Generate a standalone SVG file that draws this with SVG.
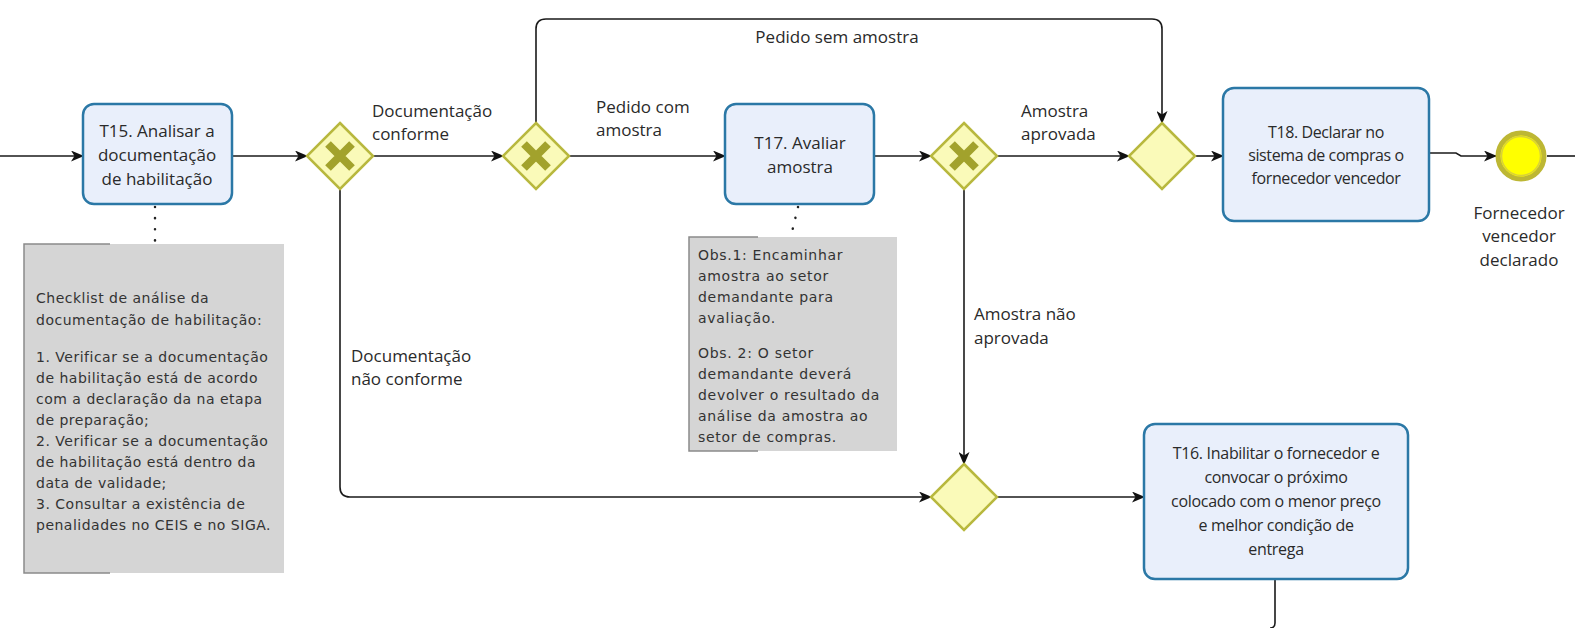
<svg xmlns="http://www.w3.org/2000/svg" width="1575" height="628" viewBox="0 0 1575 628">
<defs>
<marker id="arr" markerWidth="13" markerHeight="11" refX="12" refY="5.5" orient="auto" markerUnits="userSpaceOnUse">
<path d="M0,0 L13,5.5 L0,11 L3.5,5.5 Z" fill="#111"/>
</marker>
<style>
.task{fill:#e9effb;stroke:#2b78a6;stroke-width:2.5}
.gw{fill:#fafab9;stroke:#b8b83e;stroke-width:2.5}
.gx{stroke:#a2a22c;stroke-width:8;stroke-linecap:butt}
.con{fill:none;stroke:#1a1a1a;stroke-width:1.6}
.assoc{fill:none;stroke:#222;stroke-width:2.5;stroke-dasharray:0.1 11;stroke-linecap:round}
.note{fill:#d5d5d5}
.bracket{fill:none;stroke:#8a8a8a;stroke-width:1.5}
.lbl{font-family:"Open Sans","Noto Sans",sans-serif;font-size:17px;fill:#2a2a2a}
.tt{font-family:"Open Sans","Noto Sans",sans-serif;font-size:17px;fill:#2a2a2a;text-anchor:middle}
.nt{font-family:"DejaVu Sans",sans-serif;font-size:14px;letter-spacing:0.5px;fill:#333}
.nt2{font-family:"DejaVu Sans",sans-serif;font-size:14px;letter-spacing:0.7px;fill:#333}
</style>
</defs>

<g id="connectors">
<path class="con" d="M0,156 H83" marker-end="url(#arr)"/>
<path class="con" d="M232,156 H307" marker-end="url(#arr)"/>
<path class="con" d="M373,156 H503" marker-end="url(#arr)"/>
<path class="con" d="M569,156 H725" marker-end="url(#arr)"/>
<path class="con" d="M874,156 H931" marker-end="url(#arr)"/>
<path class="con" d="M997,156 H1129" marker-end="url(#arr)"/>
<path class="con" d="M1195,156 H1223" marker-end="url(#arr)"/>
<path class="con" d="M536,123 V29 Q536,19 546,19 H1152 Q1162,19 1162,29 V123" marker-end="url(#arr)"/>
<path class="con" d="M1429,153 H1456 L1461,156 H1496" marker-end="url(#arr)"/>
<path class="con" d="M1547,156 H1575"/>
<path class="con" d="M340,189 V487 Q340,497 350,497 H931" marker-end="url(#arr)"/>
<path class="con" d="M964,189 V464" marker-end="url(#arr)"/>
<path class="con" d="M997,497 H1144" marker-end="url(#arr)"/>
<path class="con" d="M1275,579 V623 Q1275,628 1270,628"/>
<path class="assoc" d="M155,207 V243"/>
<path class="assoc" d="M798,207 L791,236"/>
<text class="lbl" x="372" y="117">Documentação</text>
<text class="lbl" x="372" y="140">conforme</text>
<text class="lbl" x="837" y="43" text-anchor="middle">Pedido sem amostra</text>
<text class="lbl" x="596" y="113">Pedido com</text>
<text class="lbl" x="596" y="136">amostra</text>
<text class="lbl" x="1021" y="117">Amostra</text>
<text class="lbl" x="1021" y="140">aprovada</text>
<text class="lbl" x="351" y="362">Documentação</text>
<text class="lbl" x="351" y="385">não conforme</text>
<text class="lbl" x="974" y="320">Amostra não</text>
<text class="lbl" x="974" y="344">aprovada</text>
</g>

<g id="t15">
<rect class="task" x="83" y="104" width="149" height="100" rx="11"/>
<text class="tt" x="157" y="137">T15. Analisar a</text>
<text class="tt" x="157" y="161">documentação</text>
<text class="tt" x="157" y="185">de habilitação</text>
</g>

<g id="note15">
<rect class="note" x="24" y="244" width="260" height="329"/>
<path class="bracket" d="M110,244 H24 V573 H110"/>
<text class="nt" x="36" y="303">Checklist de análise da</text>
<text class="nt" x="36" y="325">documentação de habilitação:</text>
<text class="nt" x="36" y="362">1. Verificar se a documentação</text>
<text class="nt" x="36" y="383">de habilitação está de acordo</text>
<text class="nt" x="36" y="404">com a declaração da na etapa</text>
<text class="nt" x="36" y="425">de preparação;</text>
<text class="nt" x="36" y="446">2. Verificar se a documentação</text>
<text class="nt" x="36" y="467">de habilitação está dentro da</text>
<text class="nt" x="36" y="488">data de validade;</text>
<text class="nt" x="36" y="509">3. Consultar a existência de</text>
<text class="nt" x="36" y="530">penalidades no CEIS e no SIGA.</text>
</g>

<g id="gw1">
<path class="gw" d="M340,123 L373,156 L340,189 L307,156 Z"/>
<path class="gx" d="M328,144 L352,168 M352,144 L328,168"/>
</g>

<g id="gw2">
<path class="gw" d="M536,123 L569,156 L536,189 L503,156 Z"/>
<path class="gx" d="M524,144 L548,168 M548,144 L524,168"/>
</g>

<g id="t17">
<rect class="task" x="725" y="104" width="149" height="100" rx="11"/>
<text class="tt" x="800" y="149">T17. Avaliar</text>
<text class="tt" x="800" y="173">amostra</text>
</g>

<g id="note17">
<rect class="note" x="689" y="237" width="208" height="214"/>
<path class="bracket" d="M758,237 H689 V451 H758"/>
<text class="nt2" x="698" y="260">Obs.1: Encaminhar</text>
<text class="nt2" x="698" y="281">amostra ao setor</text>
<text class="nt2" x="698" y="302">demandante para</text>
<text class="nt2" x="698" y="323">avaliação.</text>
<text class="nt2" x="698" y="358">Obs. 2: O setor</text>
<text class="nt2" x="698" y="379">demandante deverá</text>
<text class="nt2" x="698" y="400">devolver o resultado da</text>
<text class="nt2" x="698" y="421">análise da amostra ao</text>
<text class="nt2" x="698" y="442">setor de compras.</text>
</g>

<g id="gw3">
<path class="gw" d="M964,123 L997,156 L964,189 L931,156 Z"/>
<path class="gx" d="M952,144 L976,168 M976,144 L952,168"/>
</g>

<g id="gw4">
<path class="gw" d="M1162,123 L1195,156 L1162,189 L1129,156 Z"/>
</g>

<g id="t18">
<rect class="task" x="1223" y="88" width="206" height="133" rx="11"/>
<text class="tt" x="1326" y="138" style="font-size:16px;letter-spacing:-0.4px">T18. Declarar no</text>
<text class="tt" x="1326" y="161" style="font-size:16px;letter-spacing:-0.4px">sistema de compras o</text>
<text class="tt" x="1326" y="184" style="font-size:16px;letter-spacing:-0.4px">fornecedor vencedor</text>
</g>

<g id="end">
<circle cx="1521" cy="156" r="23" fill="#ffff00" stroke="#bdb734" stroke-width="5"/>
<circle cx="1521" cy="156" r="19.5" fill="none" stroke="#d9d13a" stroke-width="1.5"/>
<text class="tt" x="1519" y="219">Fornecedor</text>
<text class="tt" x="1519" y="242">vencedor</text>
<text class="tt" x="1519" y="266">declarado</text>
</g>

<g id="gw5">
<path class="gw" d="M964,464 L997,497 L964,530 L931,497 Z"/>
</g>

<g id="t16">
<rect class="task" x="1144" y="424" width="264" height="155" rx="11"/>
<text class="tt" x="1276" y="459" style="font-size:16px;letter-spacing:-0.3px">T16. Inabilitar o fornecedor e</text>
<text class="tt" x="1276" y="483" style="font-size:16px;letter-spacing:-0.3px">convocar o próximo</text>
<text class="tt" x="1276" y="507" style="font-size:16px;letter-spacing:-0.3px">colocado com o menor preço</text>
<text class="tt" x="1276" y="531" style="font-size:16px;letter-spacing:-0.3px">e melhor condição de</text>
<text class="tt" x="1276" y="555" style="font-size:16px;letter-spacing:-0.3px">entrega</text>
</g>
</svg>
